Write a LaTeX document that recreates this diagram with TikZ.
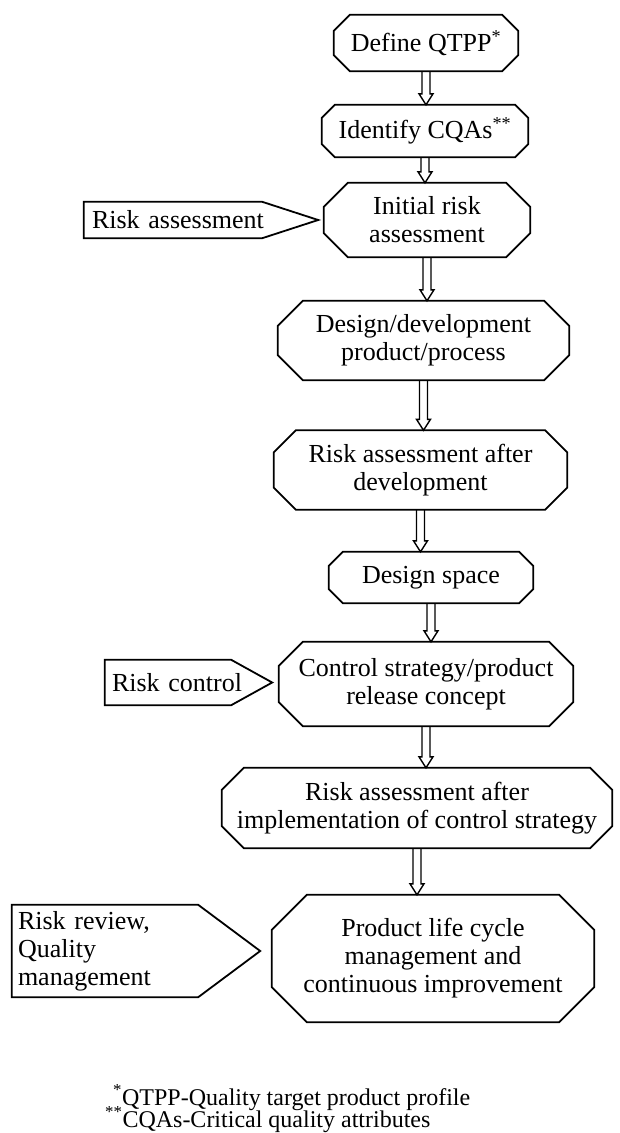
\documentclass[tikz,border=0pt]{standalone}
\usepackage{fontspec}
\setmainfont{Liberation Serif}
\usepackage{tikz}
\usetikzlibrary{calc}

\newcommand{\flowfont}{\fontsize{26}{28}\selectfont}
\newcommand{\notefont}{\fontsize{24}{22}\selectfont}

\tikzset{
  stage/.style={inner sep=0pt, align=center, font=\flowfont},
  tag/.style={inner xsep=7pt, inner ysep=0pt, align=left, font=\flowfont},
  outline/.style={line width=1.8pt, line join=miter},
  flow/.style={line width=1.4pt, to path={let \p1=(\tikztostart), \p2=(\tikztotarget) in
      (\x1-4pt,\y1) -- (\x1-4pt,\y2+11pt) -- (\x1-7pt,\y2+11pt) -- (\x1,\y2)
      -- (\x1+7pt,\y2+11pt) -- (\x1+4pt,\y2+11pt) -- (\x1+4pt,\y1)}}
}

\begin{document}
\begin{tikzpicture}[x=1pt, y=-1pt]
            \useasboundingbox (0,0) rectangle (619,1133);
            % main stages
            \node[stage, minimum width=184pt, minimum height=56pt] (qtpp) at (426,43) {Define QTPP\textsuperscript{*}};
            \node[stage, minimum width=206pt, minimum height=52pt] (cqas) at (425,131) {Identify CQAs\textsuperscript{**}};
            \node[stage, minimum width=206pt, minimum height=74pt] (init) at (427,220) {Initial risk\\assessment};
            \node[stage, minimum width=291pt, minimum height=79pt] (dev) at (423.5,340.5) {Design/development\\product/process};
            \node[stage, minimum width=293pt, minimum height=79pt] (rad) at (420.5,470) {Risk assessment after\\development};
            \node[stage, minimum width=204pt, minimum height=51pt] (space) at (431,577.5) {Design space};
            \node[stage, minimum width=294pt, minimum height=84pt] (ctrl) at (426,684) {Control strategy/product\\release concept};
            \node[stage, minimum width=390pt, minimum height=80pt] (rai) at (417,808) {Risk assessment after\\implementation of control strategy};
            \node[stage, minimum width=322pt, minimum height=127pt] (plc) at (433,958.5) {Product life cycle\\management and\\continuous improvement};
            \foreach \n/\c in {qtpp/16, cqas/13, init/24, dev/25, rad/22, space/14, ctrl/24, rai/22, plc/35}
                \draw[outline] ([yshift=-\c pt]\n.north west) -- ([xshift=\c pt]\n.north west)
                    -- ([xshift=-\c pt]\n.north east) -- ([yshift=-\c pt]\n.north east)
                    -- ([yshift=\c pt]\n.south east) -- ([xshift=-\c pt]\n.south east)
                    -- ([xshift=\c pt]\n.south west) -- ([yshift=\c pt]\n.south west) -- cycle;
            \foreach \a/\b in {qtpp/cqas, cqas/init, init/dev, dev/rad, rad/space, space/ctrl, ctrl/rai, rai/plc}
                \draw[flow] (\a.south) to (\b.north);
            % side tags
            \node[tag, inner xsep=8pt, text width=218pt, minimum height=36pt] (tassess) at (201,220) {Risk assessment};
            \node[tag, text width=153pt, minimum height=45pt] (tcontrol) at (188.5,682.5) {Risk control};
            \node[tag, inner xsep=6pt, text width=236pt, minimum height=92pt] (treview) at (136,951) {Risk review,\\Quality\\management};
            \foreach \n/\p in {tassess/56, tcontrol/41, treview/62}
                \draw[outline] (\n.north west) -- ([xshift=-\p pt]\n.north east) -- (\n.east)
                    -- ([xshift=-\p pt]\n.south east) -- (\n.south west) -- cycle;
            % notes
            \node[anchor=base west, inner sep=0pt, font=\notefont] (note1) at (113,1105) {\textsuperscript{*}QTPP-Quality target product profile};
            \node[anchor=base west, inner sep=0pt, font=\notefont] (note2) at (105,1127) {\textsuperscript{**}CQAs-Critical quality attributes};
        \end{tikzpicture}
\end{document}
